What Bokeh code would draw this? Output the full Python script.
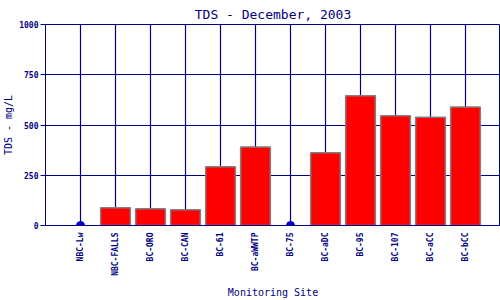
import math
from bokeh.plotting import figure
from bokeh.models import Range1d, FixedTicker, FactorRange, ColumnDataSource
from bokeh.embed import file_html
from bokeh.resources import INLINE

sites = ["NBC-Lw", "NBC-FALLS", "BC-ORO", "BC-CAN", "BC-61", "BC-aWWTP",
         "BC-75", "BC-aDC", "BC-95", "BC-107", "BC-aCC", "BC-bCC"]
tds = [0, 88, 83, 78, 292, 391, 0, 362, 646, 546, 539, 590]
y_ticks = [0, 250, 500, 750, 1000]

NAVY = "#000080"
FONT = "DejaVu Sans Mono"

bar_src = ColumnDataSource(dict(
    x=[s for s, v in zip(sites, tds) if v > 0],
    top=[v for v in tds if v > 0],
))
dot_src = ColumnDataSource(dict(
    x=[s for s, v in zip(sites, tds) if v == 0],
    y=[v for v in tds if v == 0],
))

p = figure(width=500, height=300,
           x_range=FactorRange(*sites, range_padding=0.5, range_padding_units="absolute"),
           y_range=Range1d(0, 1000),
           output_backend="svg", toolbar_location=None,
           min_border_left=45, min_border_right=0, min_border_top=24, min_border_bottom=75,
           title="TDS - December, 2003")

p.title.text_font = FONT
p.title.text_font_size = "13px"
p.title.text_font_style = "normal"
p.title.text_color = NAVY
p.title.align = "center"
p.title.vertical_align = "top"
p.title.standoff = 2
p.title.offset = 0

p.vbar(x="x", top="top", width=0.85, source=bar_src,
       fill_color="#ff0000", line_color="#808080", line_width=1.5)
p.scatter(x="x", y="y", source=dot_src, size=8, color="#0000cc")

p.outline_line_color = NAVY
p.outline_line_width = 1
p.background_fill_color = "white"
p.border_fill_color = "white"

p.xgrid.grid_line_color = NAVY
p.ygrid.grid_line_color = NAVY
p.xgrid.grid_line_width = 1.2
p.ygrid.grid_line_width = 1.2
p.yaxis.ticker = FixedTicker(ticks=y_ticks)

for ax in (p.xaxis[0], p.yaxis[0]):
    ax.axis_line_color = NAVY
    ax.major_tick_line_color = NAVY
    ax.minor_tick_line_color = None
    ax.major_label_text_font = FONT
    ax.major_label_text_font_style = "bold"
    ax.major_label_text_font_size = "8px"
    ax.major_label_text_color = NAVY
    ax.axis_label_text_font = FONT
    ax.axis_label_text_font_size = "10px"
    ax.axis_label_text_font_style = "normal"
    ax.axis_label_text_color = NAVY

p.xaxis.axis_label = "Monitoring Site"
p.yaxis.axis_label = "TDS - mg/L"
p.xaxis.major_label_orientation = math.pi / 2
p.xaxis.major_tick_out = 0
p.xaxis.major_tick_in = 0
p.xaxis.major_label_standoff = 7
p.xaxis.axis_label_standoff = 8
p.yaxis.major_tick_out = 5
p.yaxis.major_tick_in = 0
p.yaxis.major_label_standoff = 2
p.yaxis.axis_label_standoff = 2

open("out.html", "w").write(file_html(p, INLINE))
